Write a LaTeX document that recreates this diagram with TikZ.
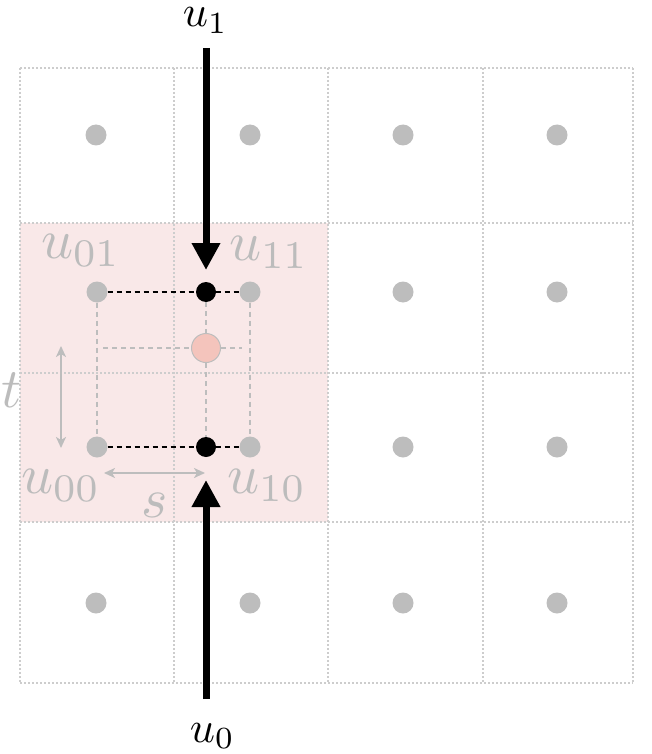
\documentclass[tikz,border=0pt]{standalone}
\usetikzlibrary{arrows.meta}
\definecolor{gridc}{HTML}{CDCDCD}
\definecolor{dotc}{HTML}{BDBDBD}
\definecolor{shadec}{HTML}{F9E8E8}
\definecolor{pinkc}{HTML}{F4C4BC}
\definecolor{labc}{HTML}{BCBCBC}
\tikzset{
  gridline/.style={draw=gridc, line width=2pt, dash pattern=on 2pt off 2pt},
  gdot/.style={circle, fill=dotc, minimum size=21pt, inner sep=0pt},
  bdot/.style={circle, fill=black, minimum size=20pt, inner sep=0pt},
  pdot/.style={circle, fill=pinkc, draw=dotc, line width=1pt, minimum size=29pt, inner sep=0pt},
  greydash/.style={draw=dotc, line width=2.5pt, dash pattern=on 5pt off 4pt},
  blackdash/.style={draw=black, line width=2.7pt, dash pattern=on 5pt off 4pt},
  bigarrow/.style={draw=black, line width=7pt, -{Triangle[length=27pt,width=27pt]}},
  greyarrow/.style={draw=dotc, line width=2.5pt, {Stealth[length=11pt,width=10pt,inset=3pt]}-{Stealth[length=11pt,width=10pt,inset=3pt]}},
  blab/.style={anchor=base west, inner sep=0pt, scale=4.4, font=\normalsize},
  glab/.style={anchor=base west, inner sep=0pt, text=labc, scale=5.6, font=\normalsize},
}
\begin{document}
\begin{tikzpicture}[x=1pt,y=-1pt]
\useasboundingbox (0,0) rectangle (651,754);
% shaded region
\fill[shadec] (20,223) rectangle (328,522);
% grid
\foreach \gx in {20,174,328,483,633} \draw[gridline] (\gx,68) -- (\gx,683);
\foreach \gy in {68,223,373,522,683} \draw[gridline] (20,\gy) -- (633,\gy);
% grid dots
\foreach \gx in {96,250,403,557} {
  \node[gdot] at (\gx,135) {};
  \node[gdot] at (\gx,603) {};
}
\foreach \gx in {403,557} {
  \node[gdot] at (\gx,292) {};
  \node[gdot] at (\gx,447) {};
}
\node[gdot] (g01) at (97,292) {};
\node[gdot] (g11) at (250,292) {};
\node[gdot] (g00) at (97,447) {};
\node[gdot] (g10) at (250,447) {};
% pink point
\node[pdot] (p) at (206,348) {};
\coordinate (pl) at (103,348);
\coordinate (pr) at (242,348);
% grey dashed lines
\draw[greydash] (g01) -- (g00);
\draw[greydash] (g11) -- (g10);
\draw[greydash] (pl) -- (p);
\draw[greydash] (p) -- (pr);
% black dashed lines
\draw[blackdash] (g01) -- (g11);
\draw[blackdash] (g00) -- (g10);
% black points
\node[bdot] (b1) at (206,292) {};
\node[bdot] (b0) at (206,447) {};
\draw[greydash] (b1) -- (p);
\draw[greydash] (p) -- (b0);
% big arrows
\coordinate (top) at (206,48);
\coordinate (tip1) at (206,270);
\coordinate (bot) at (206,699);
\coordinate (tip0) at (206,480);
\draw[bigarrow] (top) -- (tip1);
\draw[bigarrow] (bot) -- (tip0);
% grey arrows
\coordinate (ta) at (61,346);
\coordinate (tb) at (61,448);
\coordinate (sa) at (104,473);
\coordinate (sb) at (205,473);
\draw[greyarrow] (ta) -- (tb);
\draw[greyarrow] (sa) -- (sb);
% labels
\node[blab] (lu1) at (182,27) {$u_1$};
\node[blab] (lu0) at (189,742) {$u_0$};
\node[glab] (l01) at (40,258) {$u_{01}$};
\node[glab] (l11) at (228,260) {$u_{11}$};
\node[glab] (l00) at (20,493) {$u_{00}$};
\node[glab] (l10) at (226,493) {$u_{10}$};
\node[glab] (lt) at (0,407) {$t$};
\node[glab] (ls) at (140,517) {$s$};
\end{tikzpicture}
\end{document}
